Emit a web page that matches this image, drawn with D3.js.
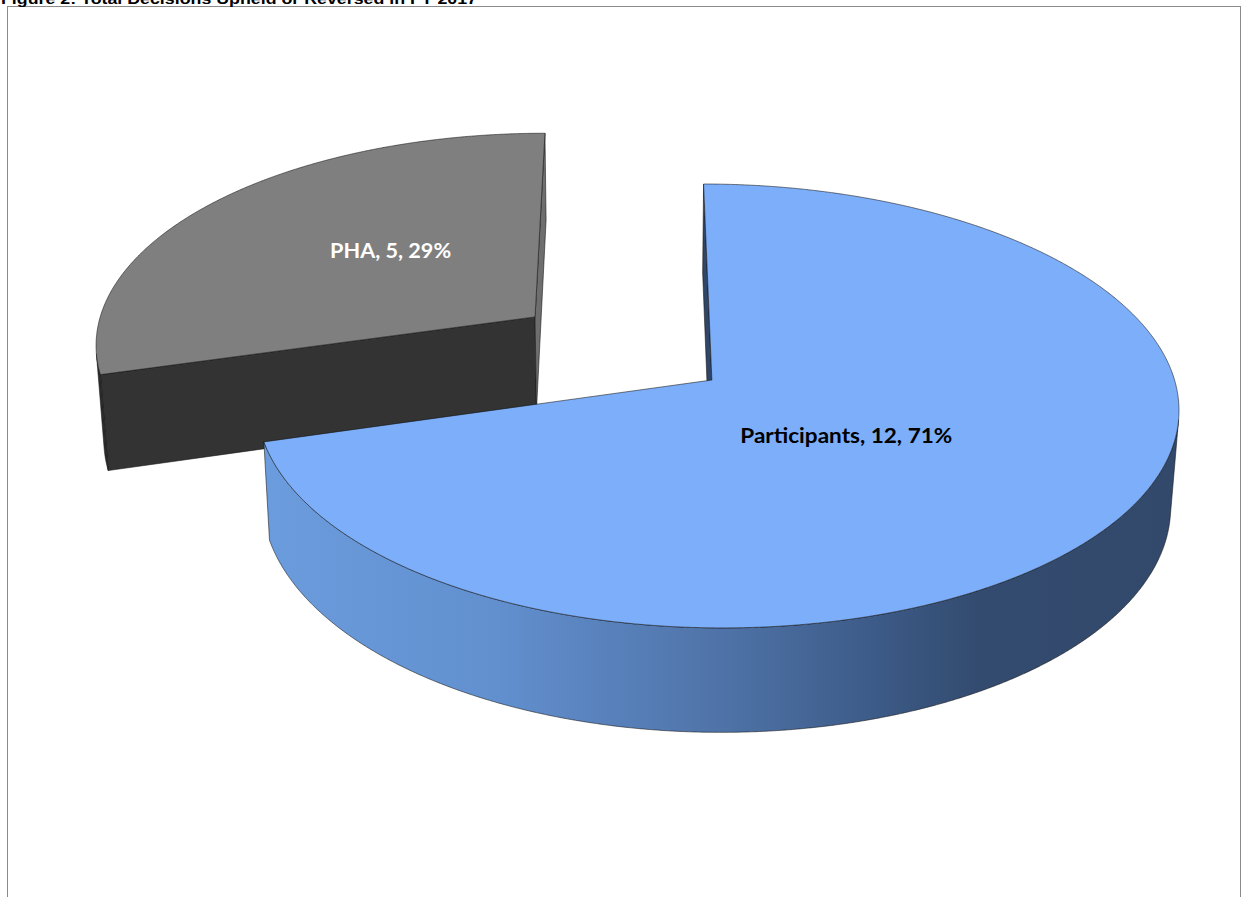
<!DOCTYPE html>
<html>
<head>
<meta charset="utf-8">
<script src="https://cdn.jsdelivr.net/npm/d3@7"></script>
<style>
  html, body { margin: 0; padding: 0; background: #ffffff; overflow: hidden; }
  svg { display: block; }
</style>
</head>
<body>
<script>
// ---- data -------------------------------------------------------------
const categories = ["Participants", "PHA"];
const values = [12, 5];
const chartTitle = "Figure 2: Total Decisions Upheld or Reversed in FY 2017";

// ---- look ---------------------------------------------------------------
const topColors   = ["#7daef9", "#7f7f7f"];
const frontColors = ["url(#blueSide)", "#2d2d2d"];
const startWallColors = ["#2f4668", "#333333"];
const endWallColors   = ["#2f4668", "#6e6e6e"];
const labelColors = ["#000000", "#ffffff"];
const explode = [0, 0.495];        // radial pull-out, in disc radii
const labelRadius = [0.373, 0.485]; // label anchor distance from slice tip, in disc radii
const labelTurn = [4.5, 6.6];       // label anchor turn past the bisector, degrees
const labelWidths = [212, 121];
const thickness = 0.24;            // disc height, in disc radii

const W = 1243, H = 897;

// perspective camera for a unit disc lying flat (x right, y up, z away)
const tilt = 28.3 * Math.PI / 180;
const cam = { focal: 3477, dist: 7.53, shift: 0.173, ox: 632, oy: 380, cx: 712, skew: 2.2e-5, hscale: 0.992 };
const sinP = Math.sin(tilt), cosP = Math.cos(tilt);
const camPos = [-cam.shift, cam.dist * sinP, -cam.dist * cosP];

function project(p) {
  const [x, y, z] = p;
  const Zc = cam.dist - y * sinP + z * cosP;
  const Yc = y * cosP + z * sinP;
  const Xc = x + cam.shift;
  let sx = cam.ox + cam.focal * Xc / Zc;
  const sy = cam.oy - cam.focal * Yc / Zc;
  const d = (sx - cam.cx) * cam.hscale;
  sx = cam.cx + d * (1 + cam.skew * d);
  return [sx, sy];
}
function faces(normal, p) {
  return normal[0] * (camPos[0] - p[0]) + normal[1] * (camPos[1] - p[1]) + normal[2] * (camPos[2] - p[2]) > 0;
}

const svg = d3.select("body").append("svg").attr("width", W).attr("height", H);

const defs = svg.append("defs");
const g1 = defs.append("linearGradient").attr("id", "blueSide")
  .attr("x1", "0%").attr("x2", "100%").attr("y1", "0%").attr("y2", "0%");
[[0, "#6b9cdd"], [0.25, "#6290cf"], [0.5, "#4f73a8"], [0.66, "#3d5c89"], [0.78, "#334b6f"], [1, "#32496b"]]
  .forEach(([o, c]) => g1.append("stop").attr("offset", o).attr("stop-color", c));

// chart frame
svg.append("rect")
  .attr("x", 7.5).attr("y", 6.5).attr("width", 1233).attr("height", 1000)
  .attr("fill", "none").attr("stroke", "#8a8a8a").attr("stroke-width", 1);

// title (sits above the frame)
svg.append("text")
  .attr("x", 1).attr("y", 4)
  .attr("font-family", "Liberation Sans, Arial, sans-serif")
  .attr("font-weight", "bold").attr("font-size", 15)
  .attr("textLength", 476).attr("lengthAdjust", "spacingAndGlyphs")
  .attr("fill", "#000").text(chartTitle);

const pie = d3.pie().sort(null).value(d => d)(values);
const total = d3.sum(values);
const pct = d3.format(".0%");

const line = d3.line();
const stroke = "rgba(20,20,20,0.8)";

const slices = pie.map((a, i) => {
  const mid = (a.startAngle + a.endAngle) / 2;
  const off = [Math.sin(mid) * explode[i], Math.cos(mid) * explode[i]];
  return { a, i, mid, off };
});

function pt(s, ang, r, y) {
  return [s.off[0] + r * Math.sin(ang), y, s.off[1] + r * Math.cos(ang)];
}

// back slice first, front slice last
const order = [1, 0];
order.forEach(i => {
  const s = slices[i];
  const g = svg.append("g");
  const a0 = s.a.startAngle, a1 = s.a.endAngle;

  // radial walls
  const walls = [
    { ang: a0, n: [-Math.cos(a0), 0, Math.sin(a0)], fill: startWallColors[i] },
    { ang: a1, n: [Math.cos(a1), 0, -Math.sin(a1)], fill: endWallColors[i] }
  ];
  walls.forEach(w => {
    const pMid = pt(s, w.ang, 0.5, -thickness / 2);
    if (!faces(w.n, pMid)) return;
    const poly = [pt(s, 0, 0, 0), pt(s, w.ang, 1, 0), pt(s, w.ang, 1, -thickness), pt(s, 0, 0, -thickness)]
      .map(project);
    g.append("path").attr("d", line(poly) + "Z")
      .attr("fill", w.fill).attr("stroke", stroke).attr("stroke-width", 0.7).attr("stroke-linejoin", "round");
  });

  // outer curved wall, front-facing stretches only
  const steps = Math.max(2, Math.ceil((a1 - a0) / (0.25 * Math.PI / 180)));
  const angs = d3.range(steps + 1).map(k => a0 + (a1 - a0) * k / steps);
  let seg = [];
  const segs = [];
  angs.forEach(t => {
    const n = [Math.sin(t), 0, Math.cos(t)];
    if (faces(n, pt(s, t, 1, 0))) seg.push(t);
    else { if (seg.length > 1) segs.push(seg); seg = []; }
  });
  if (seg.length > 1) segs.push(seg);
  segs.forEach(sg => {
    const topArc = sg.map(t => project(pt(s, t, 1, 0)));
    const botArc = sg.slice().reverse().map(t => project(pt(s, t, 1, -thickness)));
    g.append("path").attr("d", line(topArc.concat(botArc)) + "Z")
      .attr("fill", frontColors[i]).attr("stroke", stroke).attr("stroke-width", 0.7).attr("stroke-linejoin", "round");
  });

  // top face
  const topPoly = [project(pt(s, 0, 0, 0))].concat(angs.map(t => project(pt(s, t, 1, 0))));
  g.append("path").attr("d", line(topPoly) + "Z")
    .attr("fill", topColors[i]).attr("stroke", stroke).attr("stroke-width", 0.7).attr("stroke-linejoin", "round");
});

// data labels: "Category, value, percent"
slices.forEach(s => {
  const i = s.i;
  const ang = s.mid + labelTurn[i] * Math.PI / 180;
  const [lx, ly] = project(pt(s, ang, labelRadius[i], 0));
  svg.append("text")
    .attr("x", lx).attr("y", ly).attr("dy", "0.36em")
    .attr("text-anchor", "middle")
    .attr("font-family", "Lato, 'Open Sans', sans-serif")
    .attr("font-weight", "bold").attr("font-size", 20)
    .attr("textLength", labelWidths[i]).attr("lengthAdjust", "spacingAndGlyphs")
    .attr("fill", labelColors[i])
    .text(`${categories[i]}, ${values[i]}, ${pct(values[i] / total)}`);
});
</script>
</body>
</html>
